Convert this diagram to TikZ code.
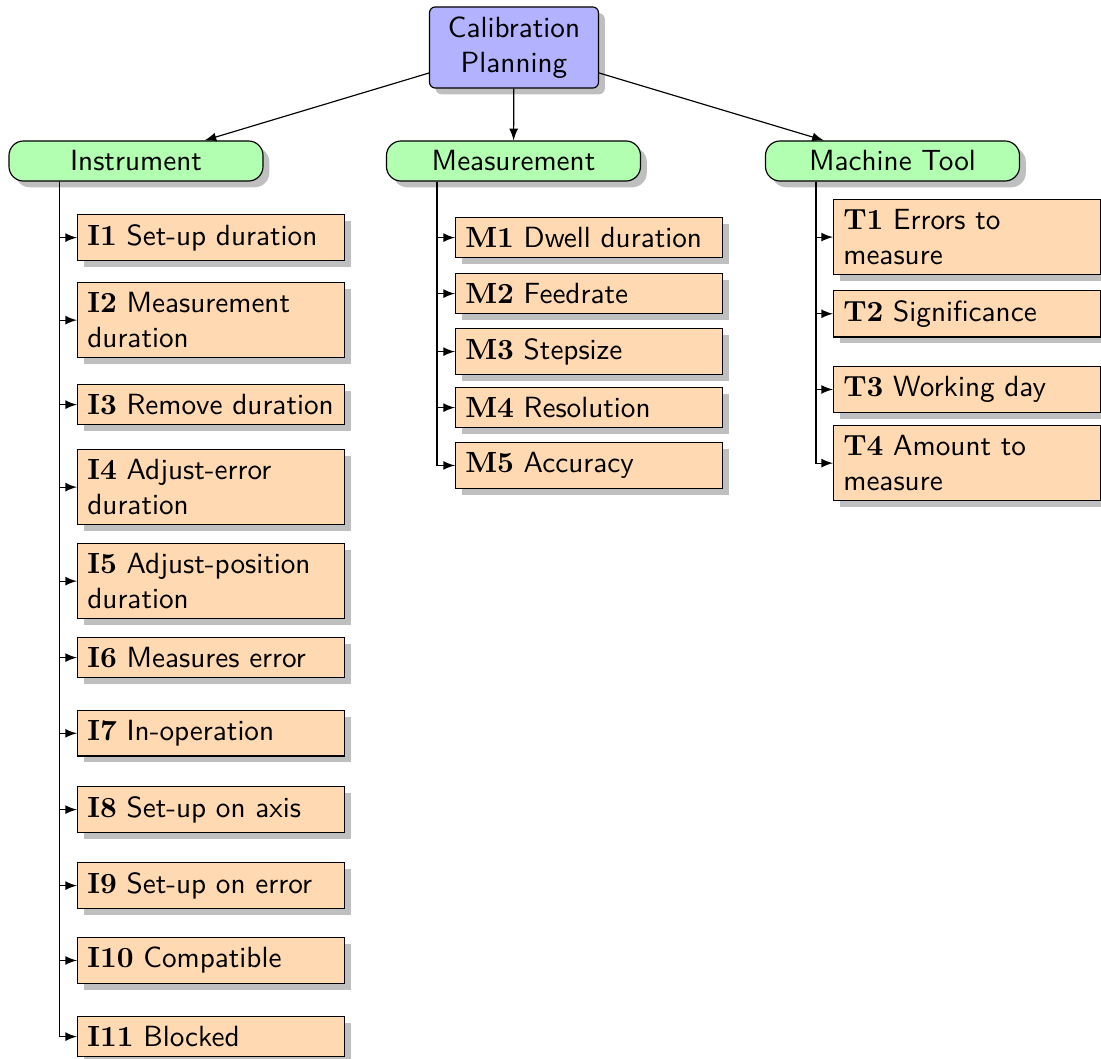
\documentclass[tikz,border=0pt]{standalone}
\usetikzlibrary{shadows}
\newcommand{\keylab}[1]{{\rmfamily\bfseries #1}}
\begin{document}
\begin{tikzpicture}[x=0.3425pt, y=-0.3425pt, font=\sffamily,
  rootbox/.style={draw, fill=blue!30, rounded corners=2pt, text width=1.8cm,
    align=center, drop shadow},
  groupbox/.style={draw, fill=green!30, rounded corners=5pt, minimum width=87pt,
    drop shadow},
  itembox/.style={draw, fill=orange!30, text width=84.8pt, align=left,
    anchor=north west, drop shadow,
    execute at begin node={\hyphenpenalty=10000\relax}},
  link/.style={-latex},
]
\useasboundingbox (0,0) rectangle (1101,1058);

% top level
\node[rootbox] (root) at (514,47.5) {Calibration\\Planning};

% groups
\node[groupbox] (inst) at (136,161) {Instrument};
\node[groupbox] (meas) at (513.5,161) {Measurement};
\node[groupbox] (tool) at (892.5,161) {Machine Tool};

\draw[link] (root) -- (inst);
\draw[link] (root) -- (meas);
\draw[link] (root) -- (tool);

% instrument items
\node[itembox] (i1)  at (77,214)  {\keylab{I1} Set-up duration};
\node[itembox] (i2)  at (77,282)  {\keylab{I2} Measurement duration};
\node[itembox] (i3)  at (77,384)  {\keylab{I3} Remove duration};
\node[itembox] (i4)  at (77,449)  {\keylab{I4} Adjust-error duration};
\node[itembox] (i5)  at (77,543)  {\keylab{I5} Adjust-position duration};
\node[itembox] (i6)  at (77,637)  {\keylab{I6} Measures error};
\node[itembox] (i7)  at (77,710)  {\keylab{I7} In-operation};
\node[itembox] (i8)  at (77,786)  {\keylab{I8} Set-up on axis};
\node[itembox] (i9)  at (77,862)  {\keylab{I9} Set-up on error};
\node[itembox] (i10) at (77,937)  {\keylab{I10} Compatible};
\node[itembox] (i11) at (77,1016) {\keylab{I11} Blocked};

\foreach \c in {i1,i2,i3,i4,i5,i6,i7,i8,i9,i10,i11}
  \draw[link] ([xshift=17.5pt]inst.south west) |- (\c.west);

% measurement items
\node[itembox] (m1) at (455,217) {\keylab{M1} Dwell duration};
\node[itembox] (m2) at (455,273) {\keylab{M2} Feedrate};
\node[itembox] (m3) at (455,328) {\keylab{M3} Stepsize};
\node[itembox] (m4) at (455,387) {\keylab{M4} Resolution};
\node[itembox] (m5) at (455,442) {\keylab{M5} Accuracy};

\foreach \c in {m1,m2,m3,m4,m5}
  \draw[link] ([xshift=17.5pt]meas.south west) |- (\c.west);

% machine tool items
\node[itembox] (t1) at (833,199) {\keylab{T1} Errors to measure};
\node[itembox] (t2) at (833,290) {\keylab{T2} Significance};
\node[itembox] (t3) at (833,366) {\keylab{T3} Working day};
\node[itembox] (t4) at (833,425) {\keylab{T4} Amount to measure};

\foreach \c in {t1,t2,t3,t4}
  \draw[link] ([xshift=17.5pt]tool.south west) |- (\c.west);
\end{tikzpicture}
\end{document}
